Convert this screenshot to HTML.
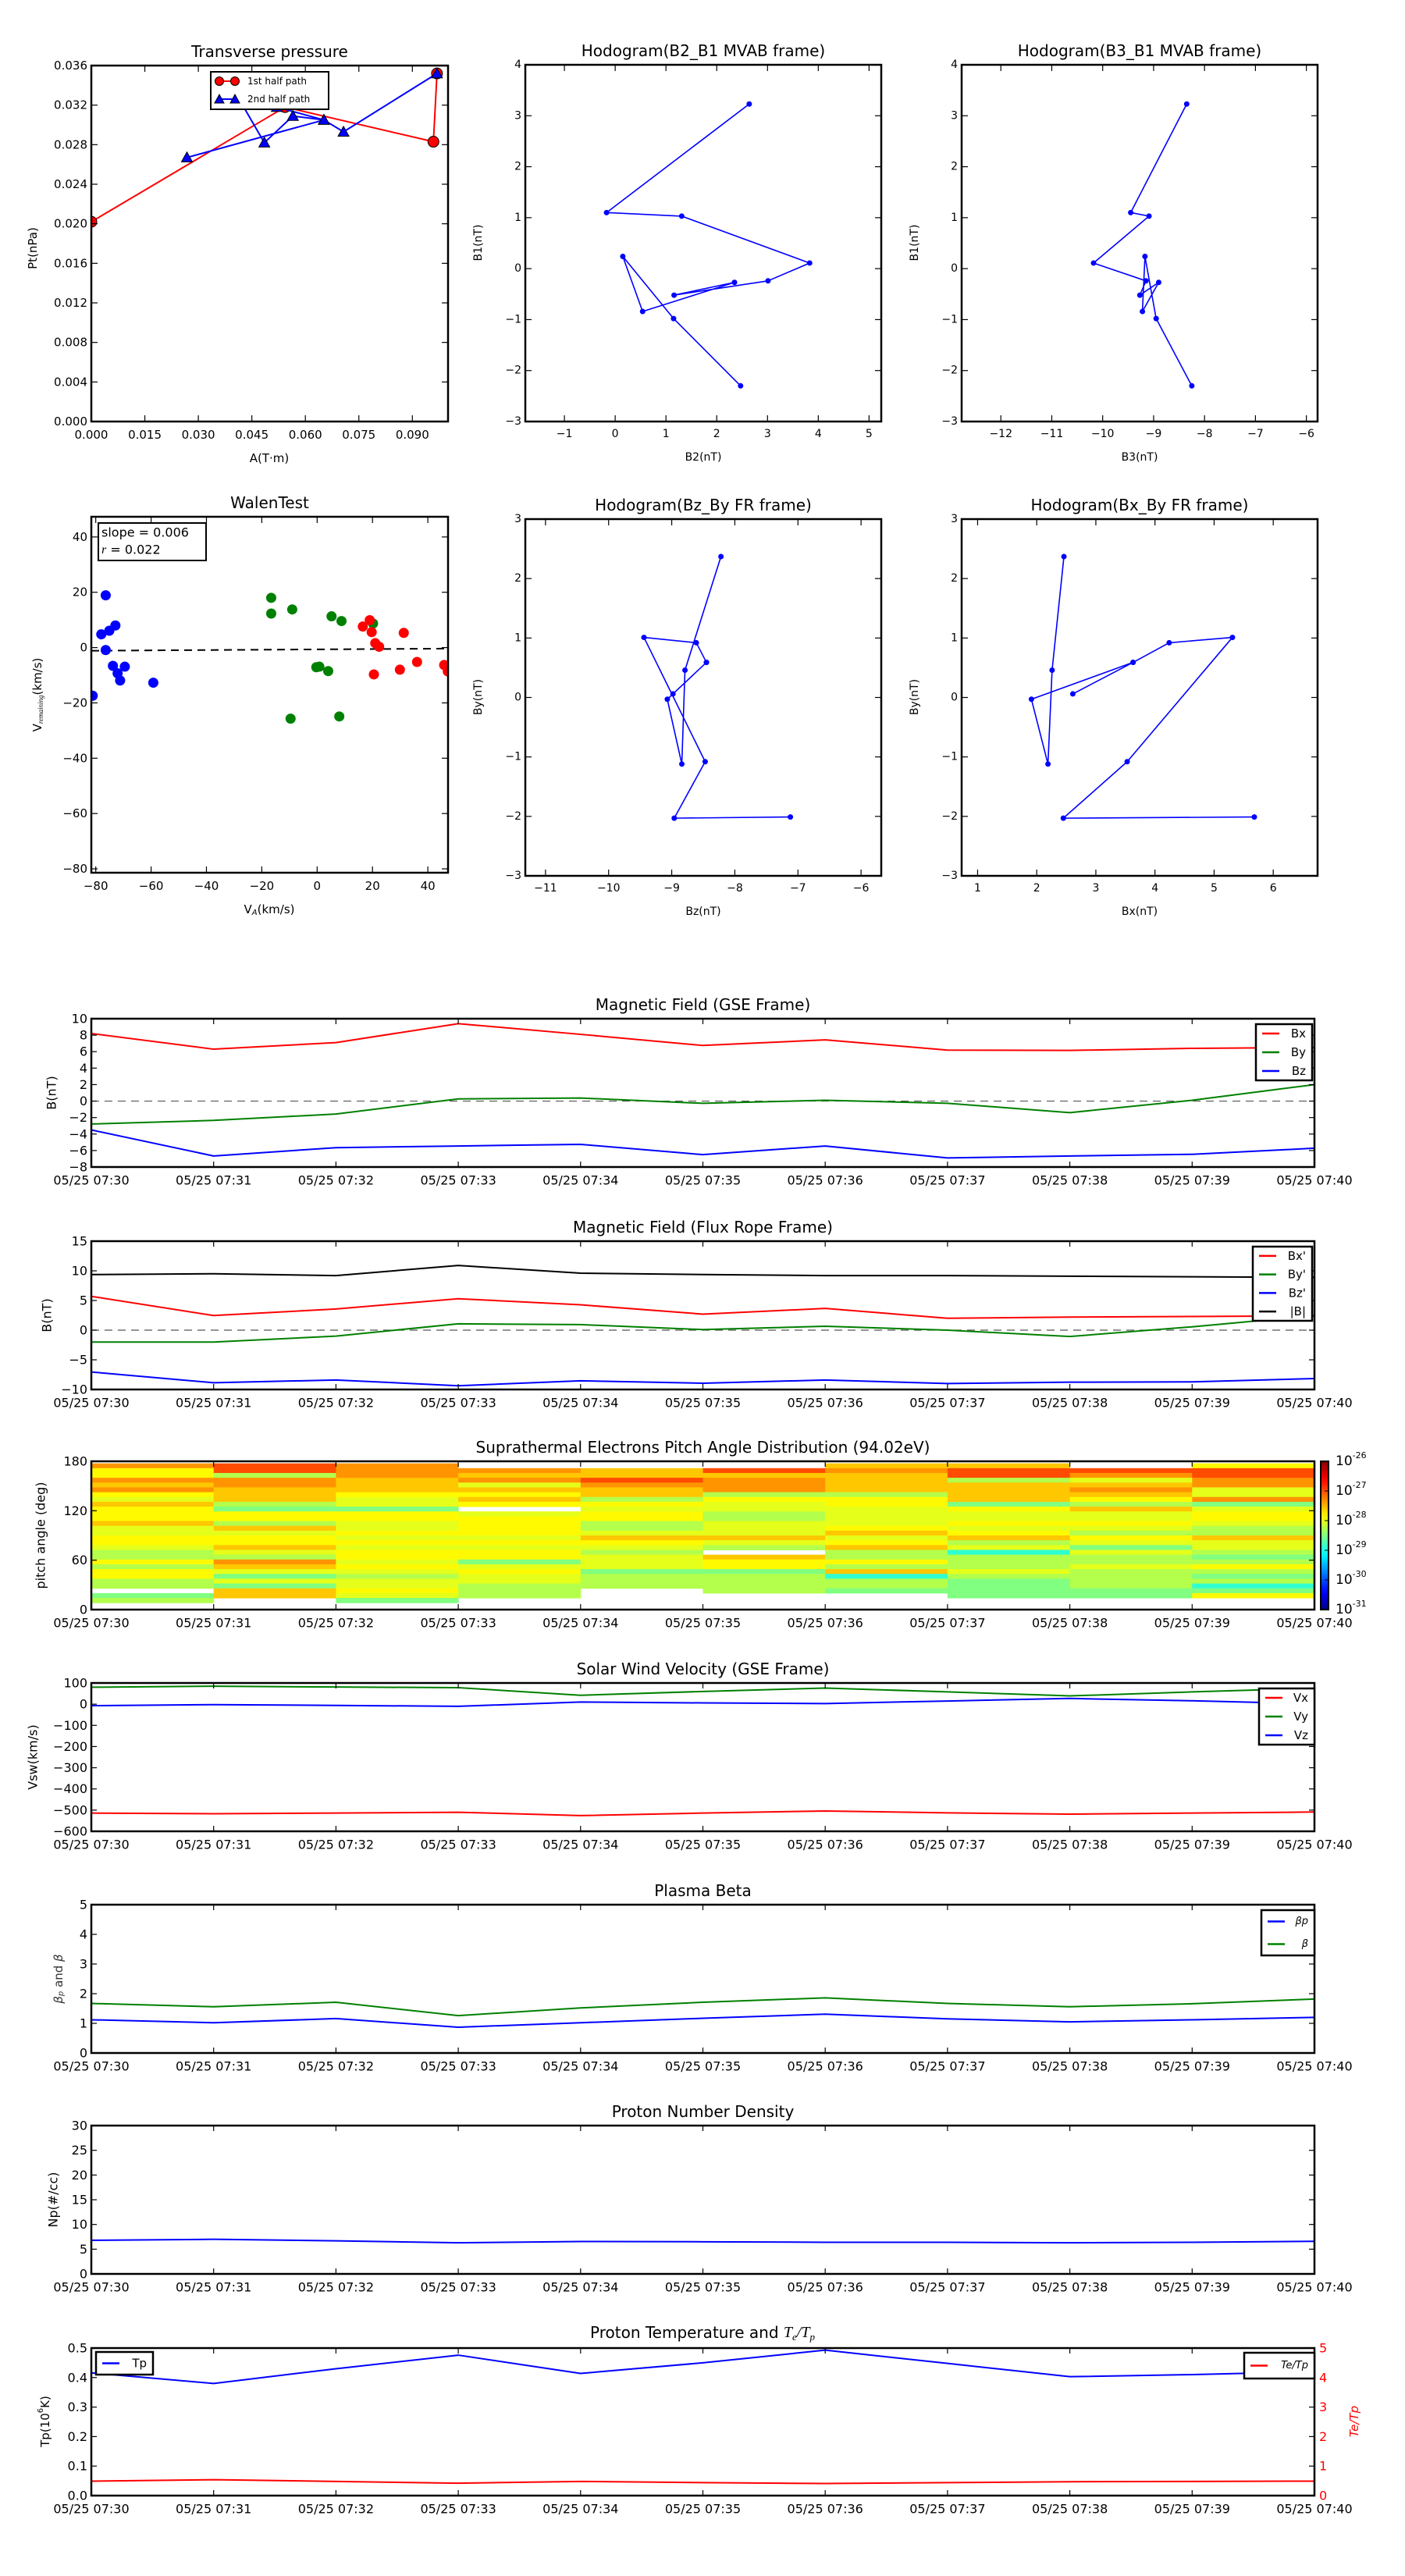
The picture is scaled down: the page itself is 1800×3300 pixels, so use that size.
<!DOCTYPE html>
<html><head><meta charset="utf-8"><title>Flux rope analysis</title>
<style>
html,body{margin:0;padding:0;background:#fff;}
svg{display:block;font-family:"DejaVu Sans","Liberation Sans",sans-serif;}
</style></head>
<body>
<svg id="fig" width="1800" height="3300" viewBox="0 0 1800 3300" xmlns="http://www.w3.org/2000/svg"></svg>
<script>
// ---------------- DATA ----------------
const timeLabels = ["05/25 07:30","05/25 07:31","05/25 07:32","05/25 07:33","05/25 07:34","05/25 07:35","05/25 07:36","05/25 07:37","05/25 07:38","05/25 07:39","05/25 07:40"];
const gseBx = [8.2,6.3,7.1,9.4,8.1,6.75,7.43,6.19,6.15,6.4,6.5];
const gseBy = [-2.78,-2.34,-1.57,0.27,0.37,-0.27,0.1,-0.27,-1.4,0.1,2.0];
const gseBz = [-3.5,-6.66,-5.65,-5.45,-5.25,-6.5,-5.45,-6.9,-6.66,-6.46,-5.72];
const frBx = [5.7,2.46,3.57,5.3,4.27,2.7,3.66,2.0,2.2,2.3,2.4];
const frBy = [-2.0,-2.0,-1.0,1.07,0.93,0.1,0.65,0.0,-1.07,0.56,2.46];
const frBz = [-7.05,-8.86,-8.4,-9.37,-8.53,-8.95,-8.4,-9.0,-8.77,-8.72,-8.16];
const frBt = [9.37,9.5,9.2,10.9,9.6,9.37,9.2,9.2,9.1,9.0,8.9];
const vx = [-514,-517,-514,-510,-526,-514,-504,-513,-519,-514,-509];
const vy = [80,85,81,78,42,60,76,58,39,58,75];
const vz = [-7,-2,-6,-10,10,6,3,15,27,16,2];
const betaP = [1.12,1.02,1.16,0.87,1.02,1.17,1.31,1.15,1.05,1.12,1.2];
const betaT = [1.67,1.56,1.71,1.26,1.52,1.71,1.86,1.67,1.56,1.66,1.82];
const np = [6.8,7.0,6.7,6.3,6.55,6.5,6.4,6.4,6.3,6.4,6.6];
const tp = [0.416,0.38,0.43,0.476,0.414,0.45,0.493,0.448,0.403,0.41,0.42];
const teTp = [0.49,0.54,0.48,0.42,0.48,0.44,0.41,0.44,0.47,0.48,0.49];
// pitch-angle heatmap: one string per time column, rows from 180deg (top) to 0deg (bottom)
const padCols = [
 "OYYOoOYyoYYYoyyYYyggYgYYggWGgW",
 "RRgOOooogGYYgoyYYoygOoyGyGooWW",
 "OOOoooYyyGYYyyYyYyYYyYygyyYyGW",
 "WOoOyoYoYWyYYYYyYyYYGyYyygggWW",
 "WooROoogYyYYggyoYygyyyGgggWWWW",
 "WRoOOOgYyyggyyyoygWoYYGggggWWW",
 "oOoooogYYyyyyYoyYoggYgoCggGWWW",
 "oRRgooooGYyyYyYogyCgggygGGGGWW",
 "WROyoOoYgoyyYygYyGyggyggggGGWW",
 "YRROOyyOGyYYyggoyygGgYgGgCGYWW"
];
const padLevels = {R:-27.0,O:-27.35,o:-27.6,Y:-27.85,y:-28.0,g:-28.25,G:-28.5,C:-28.9};
// transverse pressure
const tpA1 = [0.0, 0.0543, 0.0959, 0.0969];
const tpP1 = [0.0202, 0.0318, 0.0283, 0.0352];
const tpA2 = [0.0969, 0.0707, 0.0652, 0.052, 0.040, 0.0485, 0.0565, 0.0652, 0.0268];
const tpP2 = [0.0352, 0.0293, 0.0305, 0.0318, 0.0335, 0.0282, 0.0309, 0.0305, 0.0267];
// Walen test
const walBlueX = [-81.1,-78,-76.4,-75.1,-72.9,-76.4,-73.8,-72.1,-71.2,-69.5,-59.2];
const walBlueY = [-17.4,4.8,18.9,6.1,8.0,-0.9,-6.6,-9.3,-11.9,-6.9,-12.7];
const walGreenX = [-16.6,-16.6,-9.0,-9.6,-0.3,0.8,4.0,5.2,8.8,8.0,20.2];
const walGreenY = [18,12.3,13.8,-25.7,-7.1,-6.9,-8.5,11.3,9.6,-24.9,8.7];
const walRedX = [16.5,19.0,19.7,21,22.4,20.5,31.3,36.1,29.9,45.9,47.2];
const walRedY = [7.6,9.9,5.6,1.6,0.3,-9.7,5.3,-5.2,-8.0,-6.3,-8.6];
const walSlope = 0.006, walIntercept = -0.65;
// MVAB hodograms
const mvB1 = [3.23,1.10,1.03,0.11,-0.24,-0.52,-0.27,-0.84,0.24,-0.98,-2.30];
const mvB2 = [2.64,-0.17,1.31,3.83,3.01,1.16,2.35,0.54,0.15,1.15,2.47];
const mvB3 = [-8.35,-9.45,-9.09,-10.18,-9.15,-9.27,-8.90,-9.22,-9.17,-8.95,-8.25];
// FR hodograms
const hoBy = [2.37,0.46,-1.12,-0.03,0.59,0.06,0.59,0.92,1.01,-1.08,-2.03,-2.01];
const hoBx = [2.46,2.26,2.19,1.91,3.63,2.61,3.63,4.24,5.31,3.53,2.45,5.68];
const hoBz = [-8.22,-8.79,-8.84,-9.07,-8.45,-8.98,-8.45,-8.61,-9.44,-8.47,-8.96,-7.12];

// ---------------- HELPERS ----------------
const NS = "http://www.w3.org/2000/svg";
const svg = document.getElementById("fig");
function mk(tag, attrs, name, parent){
  const e = document.createElementNS(NS, tag);
  for (const k in attrs) e.setAttribute(k, attrs[k]);
  
  
  (parent || svg).appendChild(e);
  return e;
}
function txt(x, y, s, size, name, opts){
  opts = opts || {};
  const t = mk("text", {x:x, y:y, "font-size":size, "text-anchor":opts.anchor||"middle", "dominant-baseline":"central", fill:opts.fill||"#000"}, name, opts.parent);
  if (opts.rot) t.setAttribute("transform", "rotate(" + opts.rot + " " + x + " " + y + ")");
  if (opts.style) t.setAttribute("font-style", opts.style);
  t.textContent = s;
  return t;
}
function fmtNum(v, d){ const s = v.toFixed(d); return s.replace("-", "\u2212"); }
let clipId = 0;
function axes(o){
  const sx = v => o.x0 + (v - o.xmin) / (o.xmax - o.xmin) * (o.x1 - o.x0);
  const sy = v => o.y1 - (v - o.ymin) / (o.ymax - o.ymin) * (o.y1 - o.y0);
  const g = mk("g", {}, o.name);
  const cid = "clip" + (clipId++);
  const cp = mk("clipPath", {id: cid}, o.name + "-clip", g);
  mk("rect", {x:o.x0, y:o.y0, width:o.x1-o.x0, height:o.y1-o.y0}, o.name + "-clip-rect", cp);
  const plot = mk("g", {"clip-path":"url(#" + cid + ")"}, o.name + "-plot-area", g);
  const ticks = mk("g", {stroke:"#000", "stroke-width":1.2}, o.name + "-ticks", g);
  const tl = o.tickLen || 8;
  (o.xticks || []).forEach((v, i) => {
    const x = sx(v);
    mk("line", {x1:x, x2:x, y1:o.y1, y2:o.y1 - tl}, "x-tick", ticks);
    mk("line", {x1:x, x2:x, y1:o.y0, y2:o.y0 + tl}, "x-tick-top", ticks);
    txt(x, o.y1 + (o.xlabOff || 17), o.xlabels ? o.xlabels[i] : fmtNum(v, o.xd || 0), o.tickFont || 15, "x-tick-label", {parent:g});
  });
  (o.yticks || []).forEach((v, i) => {
    const y = sy(v);
    mk("line", {x1:o.x0, x2:o.x0 + tl, y1:y, y2:y}, "y-tick", ticks);
    if (!o.noRightTicks) mk("line", {x1:o.x1, x2:o.x1 - tl, y1:y, y2:y}, "y-tick-right", ticks);
    txt(o.x0 - 5, y, o.ylabels ? o.ylabels[i] : fmtNum(v, o.yd || 0), o.tickFont || 15, "y-tick-label", {parent:g, anchor:"end"});
  });
  g._finish = () => mk("rect", {x:o.x0, y:o.y0, width:o.x1-o.x0, height:o.y1-o.y0, fill:"none", stroke:"#000", "stroke-width":2.5}, o.name + "-frame", g);
  if (o.title) txt((o.x0 + o.x1) / 2, o.y0 - (o.titleOff || 18), o.title, o.titleFont || 20, o.name + "-title", {parent:g});
  return {sx, sy, g, plot};
}
function polyline(ax, xs, ys, color, name, width, dash){
  const pts = xs.map((x, i) => ax.sx(x).toFixed(2) + "," + ax.sy(ys[i]).toFixed(2)).join(" ");
  const p = mk("polyline", {points:pts, fill:"none", stroke:color, "stroke-width":width || 2, "stroke-linejoin":"round"}, name, ax.plot);
  if (dash) p.setAttribute("stroke-dasharray", dash);
  return p;
}
function dots(ax, xs, ys, color, r, name, stroke){
  xs.forEach((x, i) => {
    const c = mk("circle", {cx:ax.sx(x), cy:ax.sy(ys[i]), r:r, fill:color}, name, ax.plot);
    if (stroke) { c.setAttribute("stroke", stroke); c.setAttribute("stroke-width", 1); }
  });
}
function tris(ax, xs, ys, color, s, name){
  xs.forEach((x, i) => {
    const cx = ax.sx(x), cy = ax.sy(ys[i]);
    mk("polygon", {points:(cx)+","+(cy-s)+" "+(cx-s)+","+(cy+s*0.8)+" "+(cx+s)+","+(cy+s*0.8), fill:color, stroke:"#000", "stroke-width":1}, name, ax.plot);
  });
}
function legend(x, y, w, h, entries, name, fs){
  const g = mk("g", {}, name);
  mk("rect", {x:x, y:y, width:w, height:h, fill:"#fff", stroke:"#000", "stroke-width":2.5}, name + "-box", g);
  const step = h / entries.length;
  entries.forEach((e, i) => {
    const cy = y + step * (i + 0.5);
    mk("line", {x1:x + 8, x2:x + 30, y1:cy, y2:cy, stroke:e[1], "stroke-width":2.5}, "legend-swatch", g);
    txt(x + w - 8, cy, e[0], fs || 15, "legend-entry", {parent:g, anchor:"end", style:e[2]});
  });
}
const range = (a, b, s) => { const r = []; for (let v = a; v <= b + 1e-9; v += s) r.push(+v.toFixed(6)); return r; };

// ---------------- TRANSVERSE PRESSURE ----------------
(function(){
  const ax = axes({name:"transverse-pressure-chart", x0:117, x1:574, y0:84, y1:540, xmin:0, xmax:0.1, ymin:0, ymax:0.036,
    xticks:range(0, 0.09, 0.015), xd:3, yticks:range(0, 0.036, 0.004), yd:3, title:"Transverse pressure", tickFont:15});
  polyline(ax, tpA1, tpP1, "#f00", "first-half-path-line", 2);
  dots(ax, tpA1, tpP1, "#f00", 7, "first-half-point", "#000");
  polyline(ax, tpA2, tpP2, "#00f", "second-half-path-line", 2);
  tris(ax, tpA2, tpP2, "#00f", 7, "second-half-point");
  ax.g._finish();
  txt(345, 587, "A(T\u00b7m)", 15, "x-axis-title");
  txt(42, 318, "Pt(nPa)", 15, "y-axis-title", {rot:-90});
  const lg = mk("g", {}, "pressure-legend");
  mk("rect", {x:270, y:92, width:151, height:48, fill:"#fff", stroke:"#000", "stroke-width":2}, "pressure-legend-box", lg);
  mk("line", {x1:281, x2:301, y1:104, y2:104, stroke:"#f00", "stroke-width":2}, "legend-swatch", lg);
  mk("circle", {cx:281, cy:104, r:5.5, fill:"#f00", stroke:"#000"}, "legend-marker", lg);
  mk("circle", {cx:301, cy:104, r:5.5, fill:"#f00", stroke:"#000"}, "legend-marker", lg);
  txt(317, 104, "1st half path", 12, "legend-entry", {parent:lg, anchor:"start"});
  mk("line", {x1:281, x2:301, y1:127, y2:127, stroke:"#00f", "stroke-width":2}, "legend-swatch", lg);
  mk("polygon", {points:"281,121 275,132 287,132", fill:"#00f", stroke:"#000"}, "legend-marker", lg);
  mk("polygon", {points:"301,121 295,132 307,132", fill:"#00f", stroke:"#000"}, "legend-marker", lg);
  txt(317, 127, "2nd half path", 12, "legend-entry", {parent:lg, anchor:"start"});
})();

// ---------------- HODOGRAMS ----------------
function hodo(name, x0, y0, xmin, xmax, ymin, ymax, xticks, yticks, xs, ys, title, xl, yl){
  const ax = axes({name:name, x0:x0, x1:x0 + 456, y0:y0, y1:y0 + 457, xmin:xmin, xmax:xmax, ymin:ymin, ymax:ymax,
    xticks:xticks, yticks:yticks, title:title, tickFont:14, titleFont:20, xlabOff:16, yd:0});
  polyline(ax, xs, ys, "#00f", name + "-path", 1.6);
  dots(ax, xs, ys, "#00f", 3.5, name + "-point");
  ax.g._finish();
  txt(x0 + 228, y0 + 503, xl, 14, name + "-x-axis-title");
  txt(x0 - 60, y0 + 228, yl, 14, name + "-y-axis-title", {rot:-90});
}
hodo("hodogram-b2-b1", 673, 83, -1.77, 5.24, -3, 4, range(-1,5,1), range(-3,4,1), mvB2, mvB1, "Hodogram(B2_B1 MVAB frame)", "B2(nT)", "B1(nT)");
hodo("hodogram-b3-b1", 1232, 83, -12.77, -5.78, -3, 4, range(-12,-6,1), range(-3,4,1), mvB3, mvB1, "Hodogram(B3_B1 MVAB frame)", "B3(nT)", "B1(nT)");
hodo("hodogram-bz-by", 673, 665, -11.32, -5.68, -3, 3, range(-11,-6,1), range(-3,3,1), hoBz, hoBy, "Hodogram(Bz_By FR frame)", "Bz(nT)", "By(nT)");
hodo("hodogram-bx-by", 1232, 665, 0.73, 6.75, -3, 3, range(1,6,1), range(-3,3,1), hoBx, hoBy, "Hodogram(Bx_By FR frame)", "Bx(nT)", "By(nT)");

// ---------------- WALEN TEST ----------------
(function(){
  const ax = axes({name:"walen-test-chart", x0:117, x1:574, y0:662, y1:1118, xmin:-81.6, xmax:47.3, ymin:-81.4, ymax:47.3,
    xticks:range(-80,40,20), yticks:range(-80,40,20), title:"WalenTest", tickFont:15});
  const lx = [-81.6, 47.3];
  polyline(ax, lx, lx.map(v => walSlope * v + walIntercept), "#000", "walen-fit-line", 2, "10,7");
  dots(ax, walBlueX, walBlueY, "#00f", 6.5, "walen-point-blue");
  dots(ax, walGreenX, walGreenY, "#008000", 6.5, "walen-point-green");
  dots(ax, walRedX, walRedY, "#f00", 6.5, "walen-point-red");
  ax.g._finish();
  const tb = mk("g", {}, "walen-stats-box");
  mk("rect", {x:126, y:670, width:138, height:48, fill:"#fff", stroke:"#000", "stroke-width":2}, "walen-stats-frame", tb);
  txt(130, 682, "slope = 0.006", 16, "walen-slope-text", {parent:tb, anchor:"start"});
  const r = txt(130, 704, "", 16, "walen-r-text", {parent:tb, anchor:"start"});
  r.innerHTML = '<tspan font-style="italic" font-family="Liberation Serif">r</tspan> = 0.022';
  const xl = txt(345, 1165, "", 15, "x-axis-title");
  xl.innerHTML = 'V<tspan font-size="10" font-style="italic" dy="4">A</tspan><tspan dy="-4">(km/s)</tspan>';
  const yl = txt(48, 890, "", 15, "y-axis-title", {rot:-90});
  yl.innerHTML = 'V<tspan font-size="9" font-style="italic" font-family="Liberation Serif" dy="4">remaining</tspan><tspan dy="-4">(km/s)</tspan>';
})();

// ---------------- TIME SERIES ----------------
const TX0 = 117, TX1 = 1684;
const tIdx = timeLabels.map((_, i) => i);
function tsAxes(name, y0, y1, ymin, ymax, yticks, title, yd, ylabels){
  return axes({name:name, x0:TX0, x1:TX1, y0:y0, y1:y1, xmin:0, xmax:10, ymin:ymin, ymax:ymax,
    xticks:tIdx, xlabels:timeLabels, yticks:yticks, yd:yd || 0, ylabels:ylabels, title:title, tickFont:16, titleFont:20, xlabOff:17, tickLen:7});
}
(function(){
  const ax = tsAxes("magnetic-field-gse-chart", 1305, 1495, -8, 10, range(-8,10,2), "Magnetic Field (GSE Frame)");
  polyline(ax, [0,10], [0,0], "#555", "zero-line", 1.2, "10,7");
  polyline(ax, tIdx, gseBx, "#f00", "bx-line");
  polyline(ax, tIdx, gseBy, "#008000", "by-line");
  polyline(ax, tIdx, gseBz, "#00f", "bz-line");
  ax.g._finish();
  legend(1609, 1312, 72, 72, [["Bx","#f00"],["By","#008000"],["Bz","#00f"]], "gse-legend");
  txt(66, 1400, "B(nT)", 16, "y-axis-title", {rot:-90});
})();
(function(){
  const ax = tsAxes("magnetic-field-flux-rope-chart", 1590, 1780, -10, 15, range(-10,15,5), "Magnetic Field (Flux Rope Frame)");
  polyline(ax, [0,10], [0,0], "#555", "zero-line", 1.2, "10,7");
  polyline(ax, tIdx, frBt, "#000", "b-total-line");
  polyline(ax, tIdx, frBx, "#f00", "bx-prime-line");
  polyline(ax, tIdx, frBy, "#008000", "by-prime-line");
  polyline(ax, tIdx, frBz, "#00f", "bz-prime-line");
  ax.g._finish();
  legend(1605, 1597, 76, 95, [["Bx'","#f00"],["By'","#008000"],["Bz'","#00f"],["|B|","#000"]], "flux-rope-legend");
  txt(60, 1685, "B(nT)", 16, "y-axis-title", {rot:-90});
})();
function jet(t){
  t = Math.max(0, Math.min(1, t));
  const f = (a) => Math.max(0, Math.min(1, 1.5 - Math.abs(4 * t - a)));
  return "rgb(" + Math.round(f(3) * 255) + "," + Math.round(f(2) * 255) + "," + Math.round(f(1) * 255) + ")";
}
(function(){
  const ax = tsAxes("pitch-angle-distribution-chart", 1872, 2062, 0, 180, [0,60,120,180], "Suprathermal Electrons Pitch Angle Distribution (94.02eV)");
  const nR = 30, lo = 2.5, hi = 177.5, bw = (hi - lo) / nR;
  padCols.forEach((col, c) => {
    for (let r = 0; r < nR; r++) {
      const ch = col[r] || "W";
      if (ch === "W" || padLevels[ch] === undefined) continue;
      const top = hi - r * bw, bot = top - bw;
      const x = ax.sx(c), y = ax.sy(top);
      mk("rect", {x:x, y:y, width:ax.sx(c + 1) - x + 0.5, height:ax.sy(bot) - y + 0.5, fill:jet((padLevels[ch] + 31) / 5)}, "pad-cell", ax.plot);
    }
  });
  ax.g._finish();
  txt(52, 1967, "pitch angle (deg)", 16, "y-axis-title", {rot:-90});
  const defs = mk("defs", {}, "colorbar-defs");
  const lg = mk("linearGradient", {id:"jetgrad", x1:0, y1:1, x2:0, y2:0}, "colorbar-gradient", defs);
  for (let i = 0; i <= 20; i++) mk("stop", {offset:(i / 20), "stop-color":jet(i / 20)}, "gradient-stop", lg);
  mk("rect", {x:1692, y:1872, width:10, height:190, fill:"url(#jetgrad)", stroke:"#000", "stroke-width":2}, "colorbar", svg);
  const cbTicks = [-26,-27,-28,-29,-30,-31];
  cbTicks.forEach((e) => {
    const y = 1872 + (-26 - e) / 5 * 190;
    mk("line", {x1:1697, x2:1702, y1:y, y2:y, stroke:"#000", "stroke-width":1}, "colorbar-tick", svg);
    const t = txt(1711, y, "", 17, "colorbar-tick-label", {anchor:"start"});
    t.innerHTML = '10<tspan font-size="11" dy="-8">' + e + '</tspan>';
  });
})();
(function(){
  const ax = tsAxes("solar-wind-velocity-chart", 2156, 2346, -600, 100, range(-600,100,100), "Solar Wind Velocity (GSE Frame)");
  polyline(ax, tIdx, vx, "#f00", "vx-line");
  polyline(ax, tIdx, vy, "#008000", "vy-line");
  polyline(ax, tIdx, vz, "#00f", "vz-line");
  ax.g._finish();
  legend(1613, 2163, 71, 72, [["Vx","#f00"],["Vy","#008000"],["Vz","#00f"]], "velocity-legend");
  txt(42, 2251, "Vsw(km/s)", 16, "y-axis-title", {rot:-90});
})();
(function(){
  const ax = tsAxes("plasma-beta-chart", 2440, 2630, 0, 5, range(0,5,1), "Plasma Beta");
  polyline(ax, tIdx, betaT, "#008000", "beta-line");
  polyline(ax, tIdx, betaP, "#00f", "beta-p-line");
  ax.g._finish();
  legend(1616, 2447, 68, 58, [["\u03b2p","#00f","italic"],["\u03b2","#008000","italic"]], "beta-legend", 13);
  const yl = txt(75, 2535, "", 15, "y-axis-title", {rot:-90, fill:"#333"});
  yl.innerHTML = '<tspan font-style="italic">\u03b2<tspan font-size="10" dy="3">p</tspan></tspan><tspan dy="-3"> and </tspan><tspan font-style="italic">\u03b2</tspan>';
})();
(function(){
  const ax = tsAxes("proton-density-chart", 2723, 2913, 0, 30, range(0,30,5), "Proton Number Density");
  polyline(ax, tIdx, np, "#00f", "np-line");
  ax.g._finish();
  txt(68, 2818, "Np(#/cc)", 16, "y-axis-title", {rot:-90});
})();
(function(){
  const ax = tsAxes("proton-temperature-chart", 3008, 3197, 0, 0.5, range(0,0.5,0.1), "", 1);
  const sy2 = v => 3197 - v / 5 * (3197 - 3008);
  polyline(ax, tIdx, tp, "#00f", "tp-line");
  const pts = tIdx.map((i) => ax.sx(i).toFixed(2) + "," + sy2(teTp[i]).toFixed(2)).join(" ");
  mk("polyline", {points:pts, fill:"none", stroke:"#f00", "stroke-width":2}, "te-tp-line", ax.plot);
  ax.g._finish();
  const rTicks = [0,1,2,3,4,5];
  rTicks.forEach(v => txt(1690, sy2(v), String(v), 16, "right-y-tick-label", {anchor:"start", fill:"#f00"}));
  const tt = txt(900, 2988, "", 20, "proton-temperature-chart-title");
  tt.innerHTML = 'Proton Temperature and <tspan font-style="italic" font-family="Liberation Serif">T<tspan font-size="13" dy="5">e</tspan><tspan dy="-5">/T</tspan><tspan font-size="13" dy="5">p</tspan></tspan>';
  legend(123, 3013, 73, 29, [["Tp","#00f"]], "tp-legend");
  legend(1594, 3014, 90, 33, [["Te/Tp","#f00","italic"]], "te-tp-legend", 13);
  const yl = txt(58, 3102, "", 15, "y-axis-title", {rot:-90});
  yl.innerHTML = 'Tp(10<tspan font-size="10" dy="-6">6</tspan><tspan dy="6">K)</tspan>';
  const yr = txt(1735, 3102, "", 15, "right-y-axis-title", {rot:-90, fill:"#f00", style:"italic"});
  yr.textContent = "Te/Tp";
})();
</script>
</body></html>
